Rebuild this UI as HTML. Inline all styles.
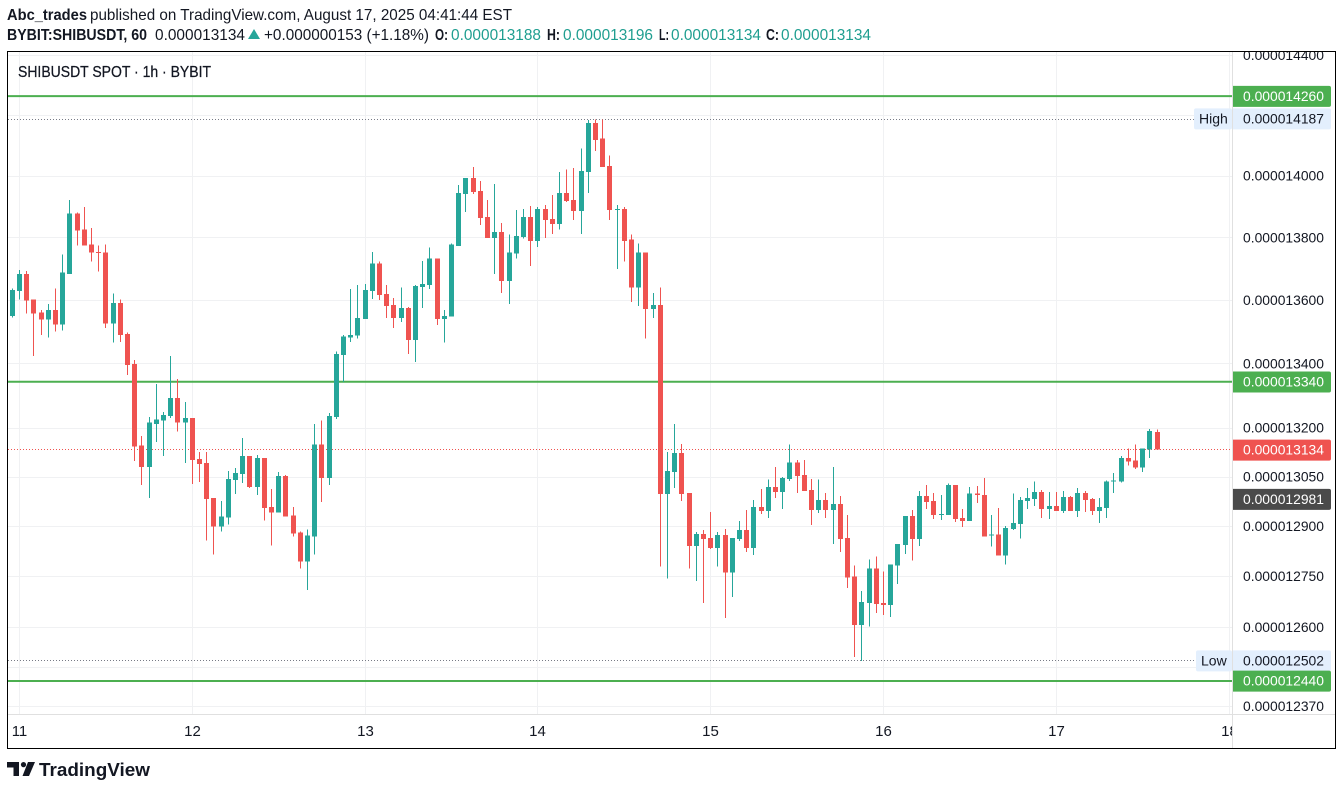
<!DOCTYPE html>
<html lang="en">
<head>
<meta charset="utf-8">
<title>SHIBUSDT chart</title>
<style>
html,body{margin:0;padding:0;background:#fff;width:1343px;height:792px;overflow:hidden}
svg{display:block;font-family:"Liberation Sans",sans-serif}
.h{font-size:16px;fill:#131722}
.b{font-weight:bold}
.t{fill:#1f9e90}
</style>
</head>
<body>
<svg id="root" xmlns="http://www.w3.org/2000/svg" width="1343" height="792" viewBox="0 0 1343 792">
  <defs>
    <clipPath id="frame-clip"><rect x="8" y="52" width="1327" height="696"/></clipPath>
    <clipPath id="plot-clip"><rect x="8" y="52" width="1224" height="662"/></clipPath>
    <clipPath id="time-clip"><rect x="8" y="715" width="1224" height="33"/></clipPath>
  </defs>
  <rect x="0" y="0" width="1343" height="792" fill="#fff"/>

  <g>
    <text class="h b" x="7" y="20" textLength="80" lengthAdjust="spacingAndGlyphs">Abc_trades</text>
    <text class="h" x="90" y="20" textLength="422" lengthAdjust="spacingAndGlyphs">published on TradingView.com, August 17, 2025 04:41:44 EST</text>
    <text class="h b" x="7" y="40" textLength="140" lengthAdjust="spacingAndGlyphs">BYBIT:SHIBUSDT, 60</text>
    <text class="h" x="155" y="40" textLength="90" lengthAdjust="spacingAndGlyphs">0.000013134</text>
    <polygon points="248,39 254,29 260,39" fill="#26a69a"/>
    <text class="h" x="264" y="40" textLength="165" lengthAdjust="spacingAndGlyphs">+0.000000153 (+1.18%)</text>
    <text class="h b" x="435" y="40" textLength="13" lengthAdjust="spacingAndGlyphs">O:</text>
    <text class="h t" x="451" y="40" textLength="90" lengthAdjust="spacingAndGlyphs">0.000013188</text>
    <text class="h b" x="547" y="40" textLength="13" lengthAdjust="spacingAndGlyphs">H:</text>
    <text class="h t" x="563" y="40" textLength="90" lengthAdjust="spacingAndGlyphs">0.000013196</text>
    <text class="h b" x="659" y="40" textLength="10" lengthAdjust="spacingAndGlyphs">L:</text>
    <text class="h t" x="671" y="40" textLength="90" lengthAdjust="spacingAndGlyphs">0.000013134</text>
    <text class="h b" x="766" y="40" textLength="13" lengthAdjust="spacingAndGlyphs">C:</text>
    <text class="h t" x="781" y="40" textLength="90" lengthAdjust="spacingAndGlyphs">0.000013134</text>
  </g>

  <g id="grid" clip-path="url(#plot-clip)"></g>
  <g id="levels" clip-path="url(#plot-clip)"></g>
  <g id="candles" clip-path="url(#plot-clip)"></g>

  <line x1="1232.5" y1="52" x2="1232.5" y2="748" stroke="#e0e0e0"/>
  <line x1="8" y1="714.5" x2="1335" y2="714.5" stroke="#e0e0e0"/>

  <g id="price-axis" clip-path="url(#frame-clip)"></g>
  <g id="time-axis" clip-path="url(#time-clip)"></g>
  <g id="tags" clip-path="url(#frame-clip)"></g>

  <text x="18" y="77" font-size="16" fill="#131722" stroke="#131722" stroke-width="0.25" textLength="193" lengthAdjust="spacingAndGlyphs">SHIBUSDT SPOT · 1h · BYBIT</text>

  <rect x="7.5" y="51.5" width="1328" height="697" fill="none" stroke="#000" stroke-width="1" shape-rendering="crispEdges"/>

  <g>
    <path d="M7 762H19V776H13.5V767.5H7Z" fill="#131722"/>
    <circle cx="23.5" cy="764.6" r="2.6" fill="#131722"/>
    <path d="M28 762H35L29 776H22.5Z" fill="#131722"/>
    <text x="39" y="776" font-size="18" font-weight="bold" fill="#131722" textLength="111" lengthAdjust="spacingAndGlyphs">TradingView</text>
  </g>
</svg>

<script>
// Prices are in units of 1e-9 (13134 = 0.000013134). One candle per hour.
var opens = [13551,13630,13684,13602,13561,13539,13570,13523,13684,13878,
13826,13778,13755,13752,13526,13592,13494,13399,13146,13081,
13213,13223,13238,13294,13217,13232,13106,13093,12987,12900,
12927,13041,13059,13115,13020,13109,12960,12942,13053,12933,
12882,12795,12870,13149,13047,13235,13428,13482,13488,13541,
13630,13717,13620,13585,13544,13576,13475,13643,13649,13733,
13541,13548,13774,13942,13994,13951,13867,13800,13819,13662,
13749,13803,13867,13790,13893,13861,13845,13945,13922,13887,
14014,14175,14123,14034,13890,13893,13794,13640,13752,13573,
13585,12998,13066,13124,13002,12842,12878,12866,12836,12875,
12762,12863,12890,12836,12959,12947,13020,13005,13045,13094,
13057,13011,12950,12980,12950,12968,12866,12750,12607,12672,
12774,12672,12666,12783,12845,12932,12863,12993,12978,12935,
12935,13026,12926,12917,13000,12996,12873,12876,12813,12893,
12908,12978,12984,13005,12953,12962,12947,12990,12947,13002,
12984,12947,12956,13036,13036,13109,13100,13079,13134,13188];

var highs = [13637,13697,13694,13602,13570,13589,13637,13746,13923,13881,
13900,13832,13775,13778,13621,13602,13498,13412,13176,13235,
13337,13250,13425,13352,13281,13232,13127,13127,12987,12978,
13069,13078,13170,13115,13118,13109,13014,13065,13056,12960,
12885,12891,13213,13223,13247,13439,13491,13636,13649,13652,
13755,13723,13649,13607,13640,13579,13649,13726,13768,13733,
13570,13781,13971,13994,14030,13984,13922,13975,13848,13810,
13890,13893,13903,13900,13906,13938,14014,14021,14027,14090,
14185,14187,14187,14067,13906,13900,13810,13781,13752,13623,
13640,13127,13213,13152,13002,12884,12890,12944,12884,12893,
12866,12917,12950,12980,13014,13042,13081,13051,13149,13103,
13103,13045,13042,13002,13081,12992,12935,12783,12707,12801,
12810,12765,12786,12848,12932,12950,13008,13026,13002,12996,
13030,13026,12953,13020,13023,13048,12935,12956,12902,13000,
12990,13017,13036,13011,13005,13005,13008,12993,13017,13008,
12987,12987,13039,13063,13115,13137,13149,13137,13198,13196];

var lows = [13545,13602,13558,13425,13491,13482,13501,13504,13684,13775,
13775,13723,13691,13513,13466,13469,13365,13099,13026,12987,
13158,13115,13232,13189,13093,13029,13035,12858,12816,12885,
12906,12999,13032,13017,12996,12918,12843,12942,12930,12870,
12774,12711,12816,12975,13026,13229,13343,13469,13479,13541,
13604,13601,13544,13513,13532,13431,13406,13576,13636,13522,
13466,13548,13774,13883,13942,13842,13800,13684,13623,13588,
13733,13797,13710,13771,13800,13813,13826,13916,13858,13813,
13945,14083,14030,13858,13699,13723,13595,13582,13479,13544,
12780,12744,13017,12977,12774,12738,12672,12833,12780,12628,
12690,12857,12824,12815,12938,12926,12986,12953,13038,13002,
13008,12905,12941,12926,12848,12824,12717,12513,12502,12602,
12643,12637,12631,12728,12818,12798,12842,12953,12923,12920,
12935,12914,12899,12917,12971,12870,12840,12813,12786,12890,
12864,12953,12962,12926,12923,12947,12941,12947,12929,12944,
12935,12911,12926,13002,13033,13085,13075,13066,13109,13134];

var closes = [13633,13684,13599,13558,13539,13570,13523,13688,13878,13823,
13775,13752,13753,13526,13592,13491,13396,13143,13081,13217,
13226,13241,13294,13217,13232,13103,13090,12984,12900,12930,
13044,13062,13115,13020,13109,12957,12942,13053,12930,12879,
12795,12873,13149,13047,13238,13430,13485,13491,13544,13633,
13717,13617,13582,13544,13576,13475,13646,13652,13733,13541,
13551,13778,13945,13994,13948,13864,13800,13819,13662,13752,
13806,13867,13790,13893,13858,13845,13945,13919,13887,14017,
14175,14119,14030,13890,13893,13790,13640,13752,13573,13585,
12998,13069,13124,12998,12842,12878,12863,12836,12875,12762,
12866,12890,12836,12959,12947,13020,13005,13048,13094,13054,
13008,12950,12980,12950,12968,12863,12747,12607,12675,12774,
12669,12666,12786,12848,12932,12863,12992,12974,12935,12938,
13026,12923,12917,13000,12996,12870,12876,12813,12896,12911,
12981,12987,13005,12953,12962,12947,12990,12947,13002,12981,
12947,12959,13036,13039,13109,13097,13079,13137,13192,13134];

var dayLabels = ["11","12","13","14","15","16","17","18"];
var priceTickValues = [14400,14000,13800,13600,13400,13200,13050,12900,12750,12600,12370];
var unlabeledGridValues = [14200,12483];
var greenLevels = [14260,13340,12440];
var sessionHigh = 14187;
var sessionLow = 12502;
var lastPrice = 13134;
var prevTagPrice = 12981;

var NS = "http://www.w3.org/2000/svg";
function yScale(p){ return 55.5 + 4283 * Math.log(14400 / p); }
function xScale(i){ return Math.floor(12.3 + 7.2 * i); }
function fmt(p){ return (p / 1e9).toFixed(9); }
function mk(tag, parent, attrs, text){
  var el = document.createElementNS(NS, tag);
  for (var k in attrs) el.setAttribute(k, attrs[k]);
  if (text !== undefined) el.textContent = text;
  parent.appendChild(el);
  return el;
}
var gGrid = document.getElementById("grid");
var gLevels = document.getElementById("levels");
var gCandles = document.getElementById("candles");
var gPrice = document.getElementById("price-axis");
var gTime = document.getElementById("time-axis");
var gTags = document.getElementById("tags");

// horizontal grid
priceTickValues.concat(unlabeledGridValues).forEach(function(p){
  var py = Math.floor(yScale(p)) + 0.5;
  var l = mk("line", gGrid, {x1:8, x2:1232, y1:py, y2:py, stroke:"#f0f1f3"});
  
  
});
// vertical grid + time labels
dayLabels.forEach(function(d, n){
  var idx = 1 + 24 * n;
  var vx = xScale(idx) + 0.5;
  var l = mk("line", gGrid, {x1:vx, x2:vx, y1:52, y2:714, stroke:"#f0f1f3"});
  
  
  var t = mk("text", gTime, {x:vx, y:736, "text-anchor":"middle", "font-size":15, fill:"#131722"}, d);
  
  
});
// price axis labels
priceTickValues.forEach(function(p){
  var t = mk("text", gPrice, {x:1243, y:yScale(p) + 4.5, "font-size":14, fill:"#131722", textLength:81, lengthAdjust:"spacingAndGlyphs"}, fmt(p));
  
  
});
// level lines
greenLevels.forEach(function(p){
  var py = yScale(p) - 1.2;
  var l = mk("line", gLevels, {x1:8, x2:1232, y1:py, y2:py, stroke:"#4caf50", "stroke-width":2});
  
  
});
[sessionHigh, sessionLow].forEach(function(p){
  var py = Math.floor(yScale(p)) + 0.5;
  var l = mk("line", gLevels, {x1:8, x2:1232, y1:py, y2:py, stroke:"#787b86", "stroke-width":1, "stroke-dasharray":"1 2"});
  
  
});
(function(){
  var py = Math.floor(yScale(lastPrice)) + 0.5;
  var l = mk("line", gLevels, {x1:8, x2:1232, y1:py, y2:py, stroke:"#ef5350", "stroke-width":1, "stroke-dasharray":"1 2"});
  
  
})();
// candles
opens.forEach(function(o, i){
  var c = closes[i], h = highs[i], lo = lows[i];
  var col = c >= o ? "#26a69a" : "#ef5350";
  var cx = xScale(i);
  var g = mk("g", gCandles, {"shape-rendering":"crispEdges"});
  
  
  var wick = mk("rect", g, {x:cx, width:1, y:yScale(h), height:Math.max(1, yScale(lo) - yScale(h)), fill:col});
  
  
  var top = yScale(Math.max(o, c)), bot = yScale(Math.min(o, c));
  var body = mk("rect", g, {x:cx - 2, width:5, y:top, height:Math.max(1, bot - top), fill:col});
  
  
});
// tags
function addTag(p, bg, fg, dy){
  var cy = yScale(p) + dy;
  var r = mk("path", gTags, {d:"M1233 " + (cy - 10.5) + "H1329a2 2 0 0 1 2 2V" + (cy + 8.5) + "a2 2 0 0 1 -2 2H1233Z", fill:bg});
  
  
  var t = mk("text", gTags, {x:1243, y:cy + 4.5, "font-size":14, fill:fg, textLength:81, lengthAdjust:"spacingAndGlyphs"}, fmt(p));
  
  
}
function addSide(p, word, left, dy){
  var cy = yScale(p) + dy;
  var r = mk("rect", gTags, {x:left, y:cy - 10.5, width:1232 - left, height:21, rx:2, fill:"#e3effd"});
  
  
  var t = mk("text", gTags, {x:left + 5, y:cy + 4.5, "font-size":14, fill:"#131722"}, word);
  
  
}
addSide(sessionHigh, "High", 1194, -0.5);
addTag(sessionHigh, "#e3effd", "#131722", -0.5);
addSide(sessionLow, "Low", 1196, 0);
addTag(sessionLow, "#e3effd", "#131722", 0);
greenLevels.forEach(function(p){ addTag(p, "#4caf50", "#ffffff", -1); });
addTag(lastPrice, "#ef5350", "#ffffff", 0.5);
addTag(prevTagPrice, "#4a4a4a", "#ffffff", -0.5);
</script>
</body>
</html>
